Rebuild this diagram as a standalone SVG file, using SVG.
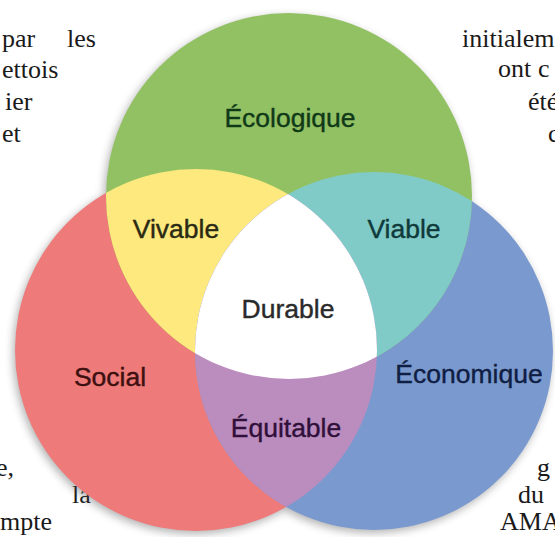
<svg xmlns="http://www.w3.org/2000/svg" width="555" height="537" viewBox="0 0 555 537">
<style>
.bg{font-family:"Liberation Serif","Times New Roman",serif;font-size:26px;fill:#1a1a1a}
.lbl{font-family:"Liberation Sans",Arial,sans-serif;font-size:26.5px;text-anchor:middle;stroke-width:0.4}
</style>
<defs>
<circle id="cG" cx="289" cy="196" r="183"/>
<circle id="cR" cx="196" cy="350" r="181"/>
<circle id="cB" cx="374" cy="351" r="179"/>
<clipPath id="clipG"><use href="#cG"/></clipPath>
<clipPath id="clipB"><use href="#cB"/></clipPath>
<filter id="sh" x="-20%" y="-20%" width="140%" height="140%">
<feGaussianBlur stdDeviation="4"/>
</filter>
</defs>
<rect width="555" height="537" fill="#ffffff"/>
<g id="page-text" class="bg">
<text x="2" y="47">par</text>
<text x="67" y="47">les</text>
<text x="2" y="78">ettois</text>
<text x="5" y="110">ier</text>
<text x="2" y="142">et</text>
<text x="462" y="47">initialem</text>
<text x="498" y="77">ont</text>
<text x="538" y="77">c</text>
<text x="528" y="110">été</text>
<text x="548" y="142">c</text>
<text x="-4" y="476">e,</text>
<text x="72" y="503">la</text>
<text x="0" y="530">mpte</text>
<text x="537" y="476">g</text>
<text x="518" y="503">du</text>
<text x="500" y="530">AMA</text>
</g>
<g id="shadow" fill="#555" opacity="0.45" filter="url(#sh)" transform="translate(-2,3)">
<use href="#cG"/><use href="#cR"/><use href="#cB"/>
</g>
<g id="circle-social"><use href="#cR" fill="#ee7a7a"/></g>
<g id="circle-economique"><use href="#cB" fill="#7a9acf"/></g>
<g id="circle-ecologique"><use href="#cG" fill="#92c164"/></g>
<g id="zone-vivable"><use href="#cR" fill="#fde97d" clip-path="url(#clipG)"/></g>
<g id="zone-viable"><use href="#cB" fill="#80cbc8" clip-path="url(#clipG)"/></g>
<g id="zone-equitable"><use href="#cR" fill="#bb8cbe" clip-path="url(#clipB)"/></g>
<g id="zone-durable"><g clip-path="url(#clipG)"><use href="#cR" fill="#ffffff" clip-path="url(#clipB)"/></g></g>
<g id="labels" class="lbl">
<g id="node-ecologique"><text x="290" y="127" fill="#103a17" stroke="#103a17">Écologique</text></g>
<g id="node-vivable"><text x="176" y="238" fill="#2a2a14" stroke="#2a2a14">Vivable</text></g>
<g id="node-viable"><text x="404" y="238" fill="#0f3a3a" stroke="#0f3a3a">Viable</text></g>
<g id="node-durable"><text x="288" y="318" fill="#2a2a2a" stroke="#2a2a2a">Durable</text></g>
<g id="node-social"><text x="110" y="386" fill="#3d1010" stroke="#3d1010">Social</text></g>
<g id="node-economique"><text x="469" y="383" fill="#101e44" stroke="#101e44">Économique</text></g>
<g id="node-equitable"><text x="286" y="437" fill="#30103a" stroke="#30103a">Équitable</text></g>
</g>
</svg>
